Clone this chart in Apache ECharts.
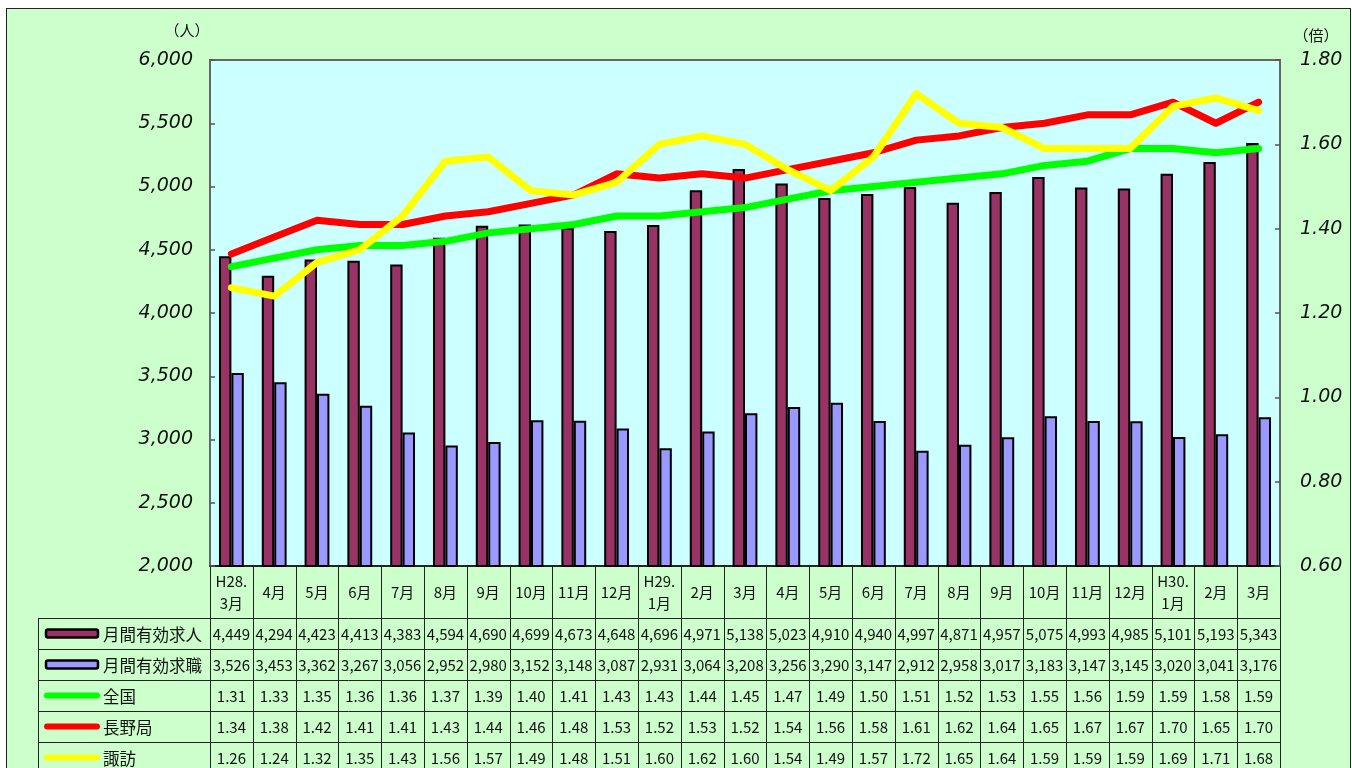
<!DOCTYPE html>
<html><head><meta charset="utf-8">
<script src="https://cdn.jsdelivr.net/npm/echarts@6/dist/echarts.min.js"></script>
<style>
html,body{margin:0;padding:0;background:#fff;overflow:hidden;width:1352px;height:768px;}
#frame{position:absolute;left:6px;top:8px;width:1345px;height:790px;border:1.5px solid #222;background:#CCFFCC;box-sizing:border-box;}
#chart{position:absolute;left:0;top:0;width:1352px;height:768px;}
</style></head><body>
<div id="frame"></div><div id="chart"></div>
<script>
const categories = ['H28.\n3月','4月','5月','6月','7月','8月','9月','10月','11月','12月','H29.\n1月','2月','3月','4月','5月','6月','7月','8月','9月','10月','11月','12月','H30.\n1月','2月','3月'];
const kyujin = [4449,4294,4423,4413,4383,4594,4690,4699,4673,4648,4696,4971,5138,5023,4910,4940,4997,4871,4957,5075,4993,4985,5101,5193,5343];
const kyushoku = [3526,3453,3362,3267,3056,2952,2980,3152,3148,3087,2931,3064,3208,3256,3290,3147,2912,2958,3017,3183,3147,3145,3020,3041,3176];
const zenkoku = [1.31,1.33,1.35,1.36,1.36,1.37,1.39,1.40,1.41,1.43,1.43,1.44,1.45,1.47,1.49,1.50,1.51,1.52,1.53,1.55,1.56,1.59,1.59,1.58,1.59];
const naganokyoku = [1.34,1.38,1.42,1.41,1.41,1.43,1.44,1.46,1.48,1.53,1.52,1.53,1.52,1.54,1.56,1.58,1.61,1.62,1.64,1.65,1.67,1.67,1.70,1.65,1.70];
const suwa = [1.26,1.24,1.32,1.35,1.43,1.56,1.57,1.49,1.48,1.51,1.60,1.62,1.60,1.54,1.49,1.57,1.72,1.65,1.64,1.59,1.59,1.59,1.69,1.71,1.68];
const seriesNames = ['月間有効求人','月間有効求職','全国','長野局','諏訪'];
const unitLeft = '（人）';
const unitRight = '（倍）';

const colors = {kyujin:'#993366', kyushoku:'#9999FF', zenkoku:'#00FF00', nagano:'#FF0000', suwa:'#FFFF00'};
const JP = '"Noto Sans CJK JP", "Noto Sans", sans-serif';
const AX = '"DejaVu Sans"';
const chart = echarts.init(document.getElementById('chart'), null, {renderer:'canvas'});

const lineSeries = (name, data, color) => ({
  name, type:'line', yAxisIndex:1, data, symbol:'none', z:3,
  lineStyle:{color, width:7, cap:'round', join:'round'}, itemStyle:{color}
});

chart.setOption({
  backgroundColor:'transparent',
  animation:false,
  grid:{left:210, right:72, top:60, bottom:202, show:true, backgroundColor:'#CCFFFF', borderColor:'#666', borderWidth:2},
  xAxis:{type:'category', data:categories,
    axisLine:{show:true, lineStyle:{color:'#111', width:1.5}}, axisTick:{show:false},
    axisLabel:{interval:0, margin:26, verticalAlign:'middle', fontFamily:JP, fontSize:15, lineHeight:22, color:'#111'}},
  yAxis:[
    {type:'value', min:2000, max:6000, interval:500, splitLine:{show:false},
     axisLine:{show:true, lineStyle:{color:'#666', width:2}},
     axisTick:{show:true, inside:true, length:5, lineStyle:{color:'#555', width:1.5}},
     axisLabel:{margin:17, fontFamily:AX, fontStyle:'oblique', fontSize:19, color:'#111',
       formatter:v=>v.toLocaleString('en-US')}},
    {type:'value', min:0.6, max:1.8, interval:0.2, splitLine:{show:false},
     axisLine:{show:true, lineStyle:{color:'#666', width:2}},
     axisTick:{show:true, inside:true, length:5, lineStyle:{color:'#555', width:1.5}},
     axisLabel:{margin:20, fontFamily:AX, fontStyle:'oblique', fontSize:19, color:'#111',
       formatter:v=>v.toFixed(2)}}
  ],
  series:[
    {name:seriesNames[0], type:'bar', data:kyujin, barGap:'0%', barCategoryGap:'42%',
     itemStyle:{color:colors.kyujin, borderColor:'#000', borderWidth:2}},
    {name:seriesNames[1], type:'bar', data:kyushoku, barGap:'0%', barCategoryGap:'42%',
     itemStyle:{color:colors.kyushoku, borderColor:'#000', borderWidth:2}},
    lineSeries(seriesNames[2], zenkoku, colors.zenkoku),
    lineSeries(seriesNames[3], naganokyoku, colors.nagano),
    lineSeries(seriesNames[4], suwa, colors.suwa)
  ]
});

// ---- data table under the chart ----
const n = categories.length;
const centers = categories.map((c,i)=>chart.convertToPixel({xAxisIndex:0}, i));
const band = centers.length>1 ? centers[1]-centers[0] : 40;
const plotBottom = chart.convertToPixel({yAxisIndex:0}, 2000);
const plotLeft = centers[0]-band/2, plotRight = centers[n-1]+band/2;
const tableLeft = 38;
const headerBottom = plotBottom + 52;
const rowH = 31;
const rows = [
  {vals:kyujin.map(v=>v.toLocaleString('en-US')), icon:'bar', color:colors.kyujin},
  {vals:kyushoku.map(v=>v.toLocaleString('en-US')), icon:'bar', color:colors.kyushoku},
  {vals:zenkoku.map(v=>v.toFixed(2)), icon:'line', color:colors.zenkoku},
  {vals:naganokyoku.map(v=>v.toFixed(2)), icon:'line', color:colors.nagano},
  {vals:suwa.map(v=>v.toFixed(2)), icon:'line', color:colors.suwa}
];
const lineStyle = {stroke:'#222', lineWidth:1};
const els = [];
const bottomY = 800;
for (let i=0;i<=n;i++){
  const x = Math.round(plotLeft + i*band)+0.5;
  els.push({type:'line', shape:{x1:x,y1:plotBottom,x2:x,y2:bottomY}, style:lineStyle, silent:true});
}
els.push({type:'line', shape:{x1:tableLeft+0.5,y1:headerBottom,x2:tableLeft+0.5,y2:bottomY}, style:lineStyle, silent:true});
for (let r=0;r<=rows.length;r++){
  const y = Math.round(headerBottom + r*rowH)+0.5;
  els.push({type:'line', shape:{x1:tableLeft,y1:y,x2:plotRight,y2:y}, style:lineStyle, silent:true});
}
rows.forEach((row,r)=>{
  const cy = headerBottom + r*rowH + rowH/2;
  if (row.icon==='bar'){
    els.push({type:'rect', shape:{x:46,y:cy-4,width:52,height:8,r:2}, style:{fill:row.color, stroke:'#000', lineWidth:2.5}, silent:true});
  } else {
    els.push({type:'line', shape:{x1:47,y1:cy,x2:97,y2:cy}, style:{stroke:row.color, lineWidth:6, lineCap:'round'}, silent:true});
  }
  els.push({type:'text', style:{text:seriesNames[r], x:103, y:cy+1, align:'left', verticalAlign:'middle', font:'16.5px '+JP, fill:'#111'}, silent:true});
  row.vals.forEach((t,i)=>{
    els.push({type:'text', style:{text:t, x:centers[i], y:cy+1, align:'center', verticalAlign:'middle', font:'15px '+JP, fill:'#111'}, silent:true});
  });
});
els.push({type:'text', style:{text:unitLeft, x:187, y:30, align:'center', verticalAlign:'middle', font:'15px '+JP, fill:'#111'}, silent:true});
els.push({type:'text', style:{text:unitRight, x:1316, y:35, align:'center', verticalAlign:'middle', font:'15px '+JP, fill:'#111'}, silent:true});

chart.setOption({graphic:{elements:els}});
</script>
</body></html>
